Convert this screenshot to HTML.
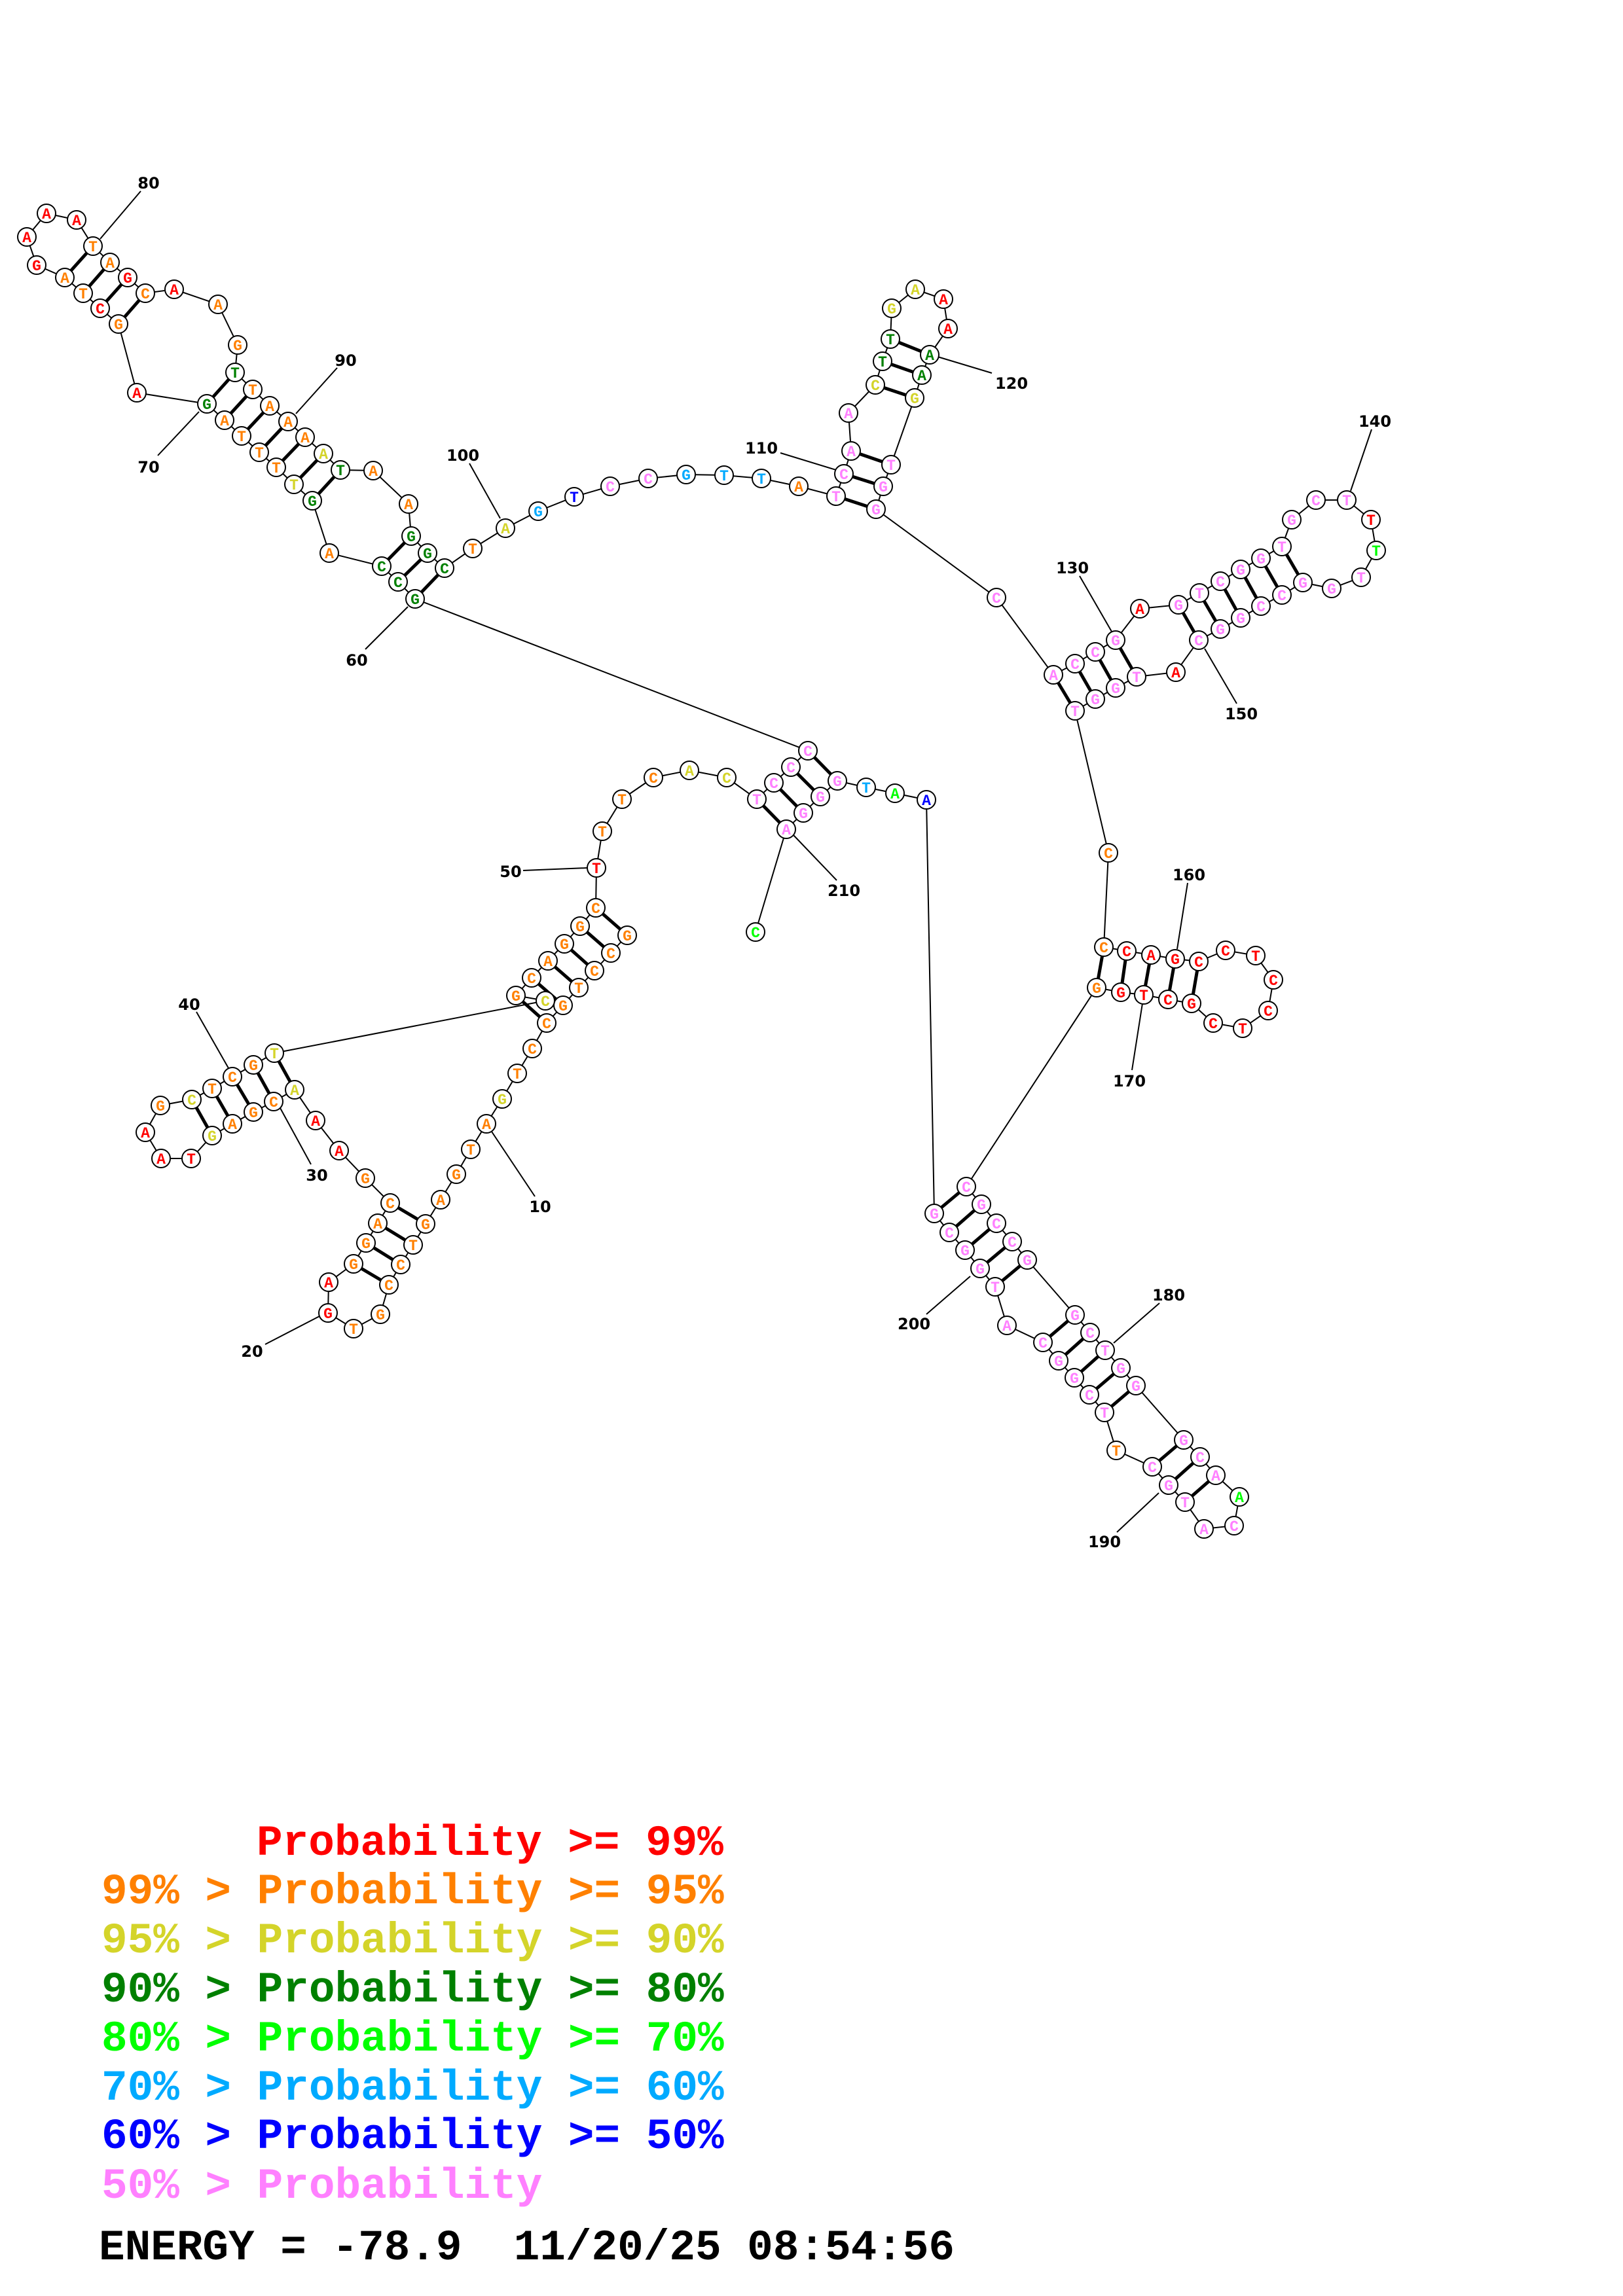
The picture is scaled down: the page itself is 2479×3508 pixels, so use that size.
<!DOCTYPE html>
<html><head><meta charset="utf-8"><style>
html,body{margin:0;padding:0;background:#fff}
svg{display:block}
.n{font-family:"Liberation Mono",monospace;font-weight:bold;font-size:23px;text-anchor:middle}
.l{font-family:"DejaVu Sans","Liberation Sans",sans-serif;font-weight:bold;font-size:24px;text-anchor:middle;fill:#000}
.g text{font-family:"Liberation Mono",monospace;font-weight:bold;font-size:66px;white-space:pre}
.r{fill:#ff0000}.o{fill:#ff8000}.y{fill:#d4d42a}.d{fill:#008000}.e{fill:#00ff00}.b{fill:#00aaff}.u{fill:#0000ff}.p{fill:#ff80ff}
</style></head><body>
<svg width="2479" height="3508" viewBox="0 0 2479 3508" xmlns="http://www.w3.org/2000/svg">
<rect width="2479" height="3508" fill="#fff"/>
<g stroke="#000" stroke-width="2" fill="none">
<polyline points="958,1429 933,1456 908,1483 884,1509 860,1536 835,1563 813,1602 790,1640 767,1679 743,1717 719,1756 697,1794 673,1833 650,1870 631,1902 612,1932 594,1963 581,2008 540,2030 501,2006 502,1959 540,1931 559,1899 577,1869 596,1838 558,1800 518,1758 482,1712 450,1665 418,1683 387,1699 355,1717 324,1735 292,1770 246,1770 222,1730 245,1689 293,1680 324,1663 355,1645 387,1627 419,1609 833,1529 788,1521 812,1494 837,1468 862,1442 886,1415 910,1387 911,1326 920,1270 950,1221 998,1188 1053,1177 1110,1188 1156,1221 1182,1196 1208,1172 1234,1147 634,915 608,889 583,865 503,845 477,765 449,740 422,714 396,691 369,666 343,642 316,617 209,600 181,495 153,471 127,448 99,424 56,405 41,362 71,326 117,336 142,376 168,401 195,424 222,448 266,442 333,465 363,527 359,569 386,595 412,620 440,644 466,668 494,693 520,718 570,719 624,770 628,819 653,845 679,868 722,838 772,807 822,781 877,759 932,743 990,731 1048,725 1106,726 1163,731 1220,743 1277,758 1289,724 1300,689 1296,631 1337,588 1348,552 1360,518 1362,471 1398,442 1441,457 1448,502 1420,542 1408,573 1397,608 1361,710 1349,743 1338,778 1522,913 1609,1031 1642,1014 1673,996 1704,978 1741,930 1800,924 1832,906 1864,888 1895,870 1926,853 1958,835 1973,794 2010,764 2057,764 2094,794 2102,841 2079,882 2034,899 1990,890 1958,909 1926,926 1895,944 1864,961 1831,978 1796,1027 1736,1034 1704,1051 1673,1068 1642,1086 1693,1303 1686,1447 1721,1453 1758,1459 1795,1465 1831,1469 1872,1452 1918,1460 1945,1497 1937,1544 1898,1571 1853,1563 1820,1533 1784,1527 1747,1520 1712,1516 1675,1509 1476,1813 1499,1840 1522,1869 1546,1897 1569,1925 1642,2009 1665,2036 1688,2063 1712,2090 1735,2117 1808,2200 1833,2226 1857,2254 1893,2287 1885,2331 1839,2336 1810,2295 1785,2269 1760,2241 1705,2216 1687,2158 1664,2131 1641,2105 1617,2079 1593,2051 1538,2025 1520,1966 1497,1938 1474,1910 1450,1883 1427,1854 1415,1222 1367,1212 1323,1203 1279,1193 1253,1217 1227,1242 1201,1267 1154,1424"/>
<!-- label lines -->
<line x1="215" y1="292" x2="153" y2="365"/><line x1="515" y1="562" x2="452" y2="632"/>
<line x1="241" y1="696" x2="304" y2="629"/><line x1="717" y1="708" x2="764" y2="792"/>
<line x1="558" y1="992" x2="623" y2="927"/><line x1="1192" y1="692" x2="1277" y2="718"/>
<line x1="1432" y1="545" x2="1515" y2="570"/><line x1="1649" y1="880" x2="1698" y2="965"/>
<line x1="2095" y1="656" x2="2063" y2="750"/><line x1="1889" y1="1075" x2="1840" y2="991"/>
<line x1="1814" y1="1349" x2="1798" y2="1450"/><line x1="1729" y1="1635" x2="1745" y2="1533"/>
<line x1="1771" y1="1991" x2="1701" y2="2052"/><line x1="1706" y1="2341" x2="1770" y2="2281"/>
<line x1="1415" y1="2008" x2="1482" y2="1950"/><line x1="1278" y1="1345" x2="1212" y2="1276"/>
<line x1="799" y1="1330" x2="897" y2="1326"/><line x1="300" y1="1546" x2="349" y2="1632"/>
<line x1="475" y1="1779" x2="428" y2="1693"/><line x1="817" y1="1828" x2="751" y2="1729"/>
<line x1="405" y1="2054" x2="488" y2="2011"/>
</g>
<g stroke="#000" stroke-width="5">
<line x1="958" y1="1429" x2="910" y2="1387"/><line x1="933" y1="1456" x2="886" y2="1415"/><line x1="908" y1="1483" x2="862" y2="1442"/><line x1="884" y1="1509" x2="837" y2="1468"/><line x1="860" y1="1536" x2="812" y2="1494"/><line x1="835" y1="1563" x2="788" y2="1521"/>
<line x1="650" y1="1870" x2="596" y2="1838"/><line x1="631" y1="1902" x2="577" y2="1869"/><line x1="612" y1="1932" x2="559" y2="1899"/><line x1="594" y1="1963" x2="540" y2="1931"/>
<line x1="450" y1="1665" x2="419" y2="1609"/><line x1="418" y1="1683" x2="387" y2="1627"/><line x1="387" y1="1699" x2="355" y2="1645"/><line x1="355" y1="1717" x2="324" y2="1663"/><line x1="324" y1="1735" x2="293" y2="1680"/>
<line x1="1156" y1="1221" x2="1201" y2="1267"/><line x1="1182" y1="1196" x2="1227" y2="1242"/><line x1="1208" y1="1172" x2="1253" y2="1217"/><line x1="1234" y1="1147" x2="1279" y2="1193"/>
<line x1="634" y1="915" x2="679" y2="868"/><line x1="608" y1="889" x2="653" y2="845"/><line x1="583" y1="865" x2="628" y2="819"/>
<line x1="477" y1="765" x2="520" y2="718"/><line x1="449" y1="740" x2="494" y2="693"/><line x1="422" y1="714" x2="466" y2="668"/><line x1="396" y1="691" x2="440" y2="644"/><line x1="369" y1="666" x2="412" y2="620"/><line x1="343" y1="642" x2="386" y2="595"/><line x1="316" y1="617" x2="359" y2="569"/>
<line x1="181" y1="495" x2="222" y2="448"/><line x1="153" y1="471" x2="195" y2="424"/><line x1="127" y1="448" x2="168" y2="401"/><line x1="99" y1="424" x2="142" y2="376"/>
<line x1="1277" y1="758" x2="1338" y2="778"/><line x1="1289" y1="724" x2="1349" y2="743"/><line x1="1300" y1="689" x2="1361" y2="710"/><line x1="1337" y1="588" x2="1397" y2="608"/><line x1="1348" y1="552" x2="1408" y2="573"/><line x1="1360" y1="518" x2="1420" y2="542"/>
<line x1="1609" y1="1031" x2="1642" y2="1086"/><line x1="1642" y1="1014" x2="1673" y2="1068"/><line x1="1673" y1="996" x2="1704" y2="1051"/><line x1="1704" y1="978" x2="1736" y2="1034"/>
<line x1="1800" y1="924" x2="1831" y2="978"/><line x1="1832" y1="906" x2="1864" y2="961"/><line x1="1864" y1="888" x2="1895" y2="944"/><line x1="1895" y1="870" x2="1926" y2="926"/><line x1="1926" y1="853" x2="1958" y2="909"/><line x1="1958" y1="835" x2="1990" y2="890"/>
<line x1="1686" y1="1447" x2="1675" y2="1509"/><line x1="1721" y1="1453" x2="1712" y2="1516"/><line x1="1758" y1="1459" x2="1747" y2="1520"/><line x1="1795" y1="1465" x2="1784" y2="1527"/><line x1="1831" y1="1469" x2="1820" y2="1533"/>
<line x1="1476" y1="1813" x2="1427" y2="1854"/><line x1="1499" y1="1840" x2="1450" y2="1883"/><line x1="1522" y1="1869" x2="1474" y2="1910"/><line x1="1546" y1="1897" x2="1497" y2="1938"/><line x1="1569" y1="1925" x2="1520" y2="1966"/>
<line x1="1642" y1="2009" x2="1593" y2="2051"/><line x1="1665" y1="2036" x2="1617" y2="2079"/><line x1="1688" y1="2063" x2="1641" y2="2105"/><line x1="1712" y1="2090" x2="1664" y2="2131"/><line x1="1735" y1="2117" x2="1687" y2="2158"/>
<line x1="1808" y1="2200" x2="1760" y2="2241"/><line x1="1833" y1="2226" x2="1785" y2="2269"/><line x1="1857" y1="2254" x2="1810" y2="2295"/>
</g>
<g fill="#fff" stroke="#000" stroke-width="2">
<circle cx="958" cy="1429" r="14"/><circle cx="933" cy="1456" r="14"/><circle cx="908" cy="1483" r="14"/><circle cx="884" cy="1509" r="14"/><circle cx="860" cy="1536" r="14"/><circle cx="835" cy="1563" r="14"/><circle cx="813" cy="1602" r="14"/><circle cx="790" cy="1640" r="14"/><circle cx="767" cy="1679" r="14"/><circle cx="743" cy="1717" r="14"/><circle cx="719" cy="1756" r="14"/><circle cx="697" cy="1794" r="14"/><circle cx="673" cy="1833" r="14"/><circle cx="650" cy="1870" r="14"/><circle cx="631" cy="1902" r="14"/><circle cx="612" cy="1932" r="14"/><circle cx="594" cy="1963" r="14"/><circle cx="581" cy="2008" r="14"/><circle cx="540" cy="2030" r="14"/><circle cx="501" cy="2006" r="14"/><circle cx="502" cy="1959" r="14"/><circle cx="540" cy="1931" r="14"/><circle cx="559" cy="1899" r="14"/><circle cx="577" cy="1869" r="14"/><circle cx="596" cy="1838" r="14"/><circle cx="558" cy="1800" r="14"/><circle cx="518" cy="1758" r="14"/><circle cx="482" cy="1712" r="14"/><circle cx="450" cy="1665" r="14"/><circle cx="418" cy="1683" r="14"/><circle cx="387" cy="1699" r="14"/><circle cx="355" cy="1717" r="14"/><circle cx="324" cy="1735" r="14"/><circle cx="292" cy="1770" r="14"/><circle cx="246" cy="1770" r="14"/><circle cx="222" cy="1730" r="14"/><circle cx="245" cy="1689" r="14"/><circle cx="293" cy="1680" r="14"/><circle cx="324" cy="1663" r="14"/><circle cx="355" cy="1645" r="14"/><circle cx="387" cy="1627" r="14"/><circle cx="419" cy="1609" r="14"/><circle cx="833" cy="1529" r="14"/><circle cx="788" cy="1521" r="14"/><circle cx="812" cy="1494" r="14"/><circle cx="837" cy="1468" r="14"/><circle cx="862" cy="1442" r="14"/><circle cx="886" cy="1415" r="14"/><circle cx="910" cy="1387" r="14"/><circle cx="911" cy="1326" r="14"/><circle cx="920" cy="1270" r="14"/><circle cx="950" cy="1221" r="14"/><circle cx="998" cy="1188" r="14"/><circle cx="1053" cy="1177" r="14"/><circle cx="1110" cy="1188" r="14"/><circle cx="1156" cy="1221" r="14"/><circle cx="1182" cy="1196" r="14"/><circle cx="1208" cy="1172" r="14"/><circle cx="1234" cy="1147" r="14"/><circle cx="634" cy="915" r="14"/><circle cx="608" cy="889" r="14"/><circle cx="583" cy="865" r="14"/><circle cx="503" cy="845" r="14"/><circle cx="477" cy="765" r="14"/><circle cx="449" cy="740" r="14"/><circle cx="422" cy="714" r="14"/><circle cx="396" cy="691" r="14"/><circle cx="369" cy="666" r="14"/><circle cx="343" cy="642" r="14"/><circle cx="316" cy="617" r="14"/><circle cx="209" cy="600" r="14"/><circle cx="181" cy="495" r="14"/><circle cx="153" cy="471" r="14"/><circle cx="127" cy="448" r="14"/><circle cx="99" cy="424" r="14"/><circle cx="56" cy="405" r="14"/><circle cx="41" cy="362" r="14"/><circle cx="71" cy="326" r="14"/><circle cx="117" cy="336" r="14"/><circle cx="142" cy="376" r="14"/><circle cx="168" cy="401" r="14"/><circle cx="195" cy="424" r="14"/><circle cx="222" cy="448" r="14"/><circle cx="266" cy="442" r="14"/><circle cx="333" cy="465" r="14"/><circle cx="363" cy="527" r="14"/><circle cx="359" cy="569" r="14"/><circle cx="386" cy="595" r="14"/><circle cx="412" cy="620" r="14"/><circle cx="440" cy="644" r="14"/><circle cx="466" cy="668" r="14"/><circle cx="494" cy="693" r="14"/><circle cx="520" cy="718" r="14"/><circle cx="570" cy="719" r="14"/><circle cx="624" cy="770" r="14"/><circle cx="628" cy="819" r="14"/><circle cx="653" cy="845" r="14"/><circle cx="679" cy="868" r="14"/><circle cx="722" cy="838" r="14"/><circle cx="772" cy="807" r="14"/><circle cx="822" cy="781" r="14"/><circle cx="877" cy="759" r="14"/><circle cx="932" cy="743" r="14"/><circle cx="990" cy="731" r="14"/><circle cx="1048" cy="725" r="14"/><circle cx="1106" cy="726" r="14"/><circle cx="1163" cy="731" r="14"/><circle cx="1220" cy="743" r="14"/><circle cx="1277" cy="758" r="14"/><circle cx="1289" cy="724" r="14"/><circle cx="1300" cy="689" r="14"/><circle cx="1296" cy="631" r="14"/><circle cx="1337" cy="588" r="14"/><circle cx="1348" cy="552" r="14"/><circle cx="1360" cy="518" r="14"/><circle cx="1362" cy="471" r="14"/><circle cx="1398" cy="442" r="14"/><circle cx="1441" cy="457" r="14"/><circle cx="1448" cy="502" r="14"/><circle cx="1420" cy="542" r="14"/><circle cx="1408" cy="573" r="14"/><circle cx="1397" cy="608" r="14"/><circle cx="1361" cy="710" r="14"/><circle cx="1349" cy="743" r="14"/><circle cx="1338" cy="778" r="14"/><circle cx="1522" cy="913" r="14"/><circle cx="1609" cy="1031" r="14"/><circle cx="1642" cy="1014" r="14"/><circle cx="1673" cy="996" r="14"/><circle cx="1704" cy="978" r="14"/><circle cx="1741" cy="930" r="14"/><circle cx="1800" cy="924" r="14"/><circle cx="1832" cy="906" r="14"/><circle cx="1864" cy="888" r="14"/><circle cx="1895" cy="870" r="14"/><circle cx="1926" cy="853" r="14"/><circle cx="1958" cy="835" r="14"/><circle cx="1973" cy="794" r="14"/><circle cx="2010" cy="764" r="14"/><circle cx="2057" cy="764" r="14"/><circle cx="2094" cy="794" r="14"/><circle cx="2102" cy="841" r="14"/><circle cx="2079" cy="882" r="14"/><circle cx="2034" cy="899" r="14"/><circle cx="1990" cy="890" r="14"/><circle cx="1958" cy="909" r="14"/><circle cx="1926" cy="926" r="14"/><circle cx="1895" cy="944" r="14"/><circle cx="1864" cy="961" r="14"/><circle cx="1831" cy="978" r="14"/><circle cx="1796" cy="1027" r="14"/><circle cx="1736" cy="1034" r="14"/><circle cx="1704" cy="1051" r="14"/><circle cx="1673" cy="1068" r="14"/><circle cx="1642" cy="1086" r="14"/><circle cx="1693" cy="1303" r="14"/><circle cx="1686" cy="1447" r="14"/><circle cx="1721" cy="1453" r="14"/><circle cx="1758" cy="1459" r="14"/><circle cx="1795" cy="1465" r="14"/><circle cx="1831" cy="1469" r="14"/><circle cx="1872" cy="1452" r="14"/><circle cx="1918" cy="1460" r="14"/><circle cx="1945" cy="1497" r="14"/><circle cx="1937" cy="1544" r="14"/><circle cx="1898" cy="1571" r="14"/><circle cx="1853" cy="1563" r="14"/><circle cx="1820" cy="1533" r="14"/><circle cx="1784" cy="1527" r="14"/><circle cx="1747" cy="1520" r="14"/><circle cx="1712" cy="1516" r="14"/><circle cx="1675" cy="1509" r="14"/><circle cx="1476" cy="1813" r="14"/><circle cx="1499" cy="1840" r="14"/><circle cx="1522" cy="1869" r="14"/><circle cx="1546" cy="1897" r="14"/><circle cx="1569" cy="1925" r="14"/><circle cx="1642" cy="2009" r="14"/><circle cx="1665" cy="2036" r="14"/><circle cx="1688" cy="2063" r="14"/><circle cx="1712" cy="2090" r="14"/><circle cx="1735" cy="2117" r="14"/><circle cx="1808" cy="2200" r="14"/><circle cx="1833" cy="2226" r="14"/><circle cx="1857" cy="2254" r="14"/><circle cx="1893" cy="2287" r="14"/><circle cx="1885" cy="2331" r="14"/><circle cx="1839" cy="2336" r="14"/><circle cx="1810" cy="2295" r="14"/><circle cx="1785" cy="2269" r="14"/><circle cx="1760" cy="2241" r="14"/><circle cx="1705" cy="2216" r="14"/><circle cx="1687" cy="2158" r="14"/><circle cx="1664" cy="2131" r="14"/><circle cx="1641" cy="2105" r="14"/><circle cx="1617" cy="2079" r="14"/><circle cx="1593" cy="2051" r="14"/><circle cx="1538" cy="2025" r="14"/><circle cx="1520" cy="1966" r="14"/><circle cx="1497" cy="1938" r="14"/><circle cx="1474" cy="1910" r="14"/><circle cx="1450" cy="1883" r="14"/><circle cx="1427" cy="1854" r="14"/><circle cx="1415" cy="1222" r="14"/><circle cx="1367" cy="1212" r="14"/><circle cx="1323" cy="1203" r="14"/><circle cx="1279" cy="1193" r="14"/><circle cx="1253" cy="1217" r="14"/><circle cx="1227" cy="1242" r="14"/><circle cx="1201" cy="1267" r="14"/><circle cx="1154" cy="1424" r="14"/>
</g>
<g class="n" transform="translate(0,8)">
<text x="958" y="1429" class="o">G</text><text x="933" y="1456" class="o">C</text><text x="908" y="1483" class="o">C</text><text x="884" y="1509" class="o">T</text><text x="860" y="1536" class="o">G</text><text x="835" y="1563" class="o">C</text><text x="813" y="1602" class="o">C</text><text x="790" y="1640" class="o">T</text><text x="767" y="1679" class="y">G</text><text x="743" y="1717" class="o">A</text><text x="719" y="1756" class="o">T</text><text x="697" y="1794" class="o">G</text><text x="673" y="1833" class="o">A</text><text x="650" y="1870" class="o">G</text><text x="631" y="1902" class="o">T</text><text x="612" y="1932" class="o">C</text><text x="594" y="1963" class="o">C</text><text x="581" y="2008" class="o">G</text><text x="540" y="2030" class="o">T</text><text x="501" y="2006" class="r">G</text><text x="502" y="1959" class="r">A</text><text x="540" y="1931" class="o">G</text><text x="559" y="1899" class="o">G</text><text x="577" y="1869" class="o">A</text><text x="596" y="1838" class="o">C</text><text x="558" y="1800" class="o">G</text><text x="518" y="1758" class="r">A</text><text x="482" y="1712" class="r">A</text><text x="450" y="1665" class="y">A</text><text x="418" y="1683" class="o">C</text><text x="387" y="1699" class="o">G</text><text x="355" y="1717" class="o">A</text><text x="324" y="1735" class="y">G</text><text x="292" y="1770" class="r">T</text><text x="246" y="1770" class="r">A</text><text x="222" y="1730" class="r">A</text><text x="245" y="1689" class="o">G</text><text x="293" y="1680" class="y">C</text><text x="324" y="1663" class="o">T</text><text x="355" y="1645" class="o">C</text><text x="387" y="1627" class="o">G</text><text x="419" y="1609" class="y">T</text><text x="833" y="1529" class="y">C</text><text x="788" y="1521" class="o">G</text><text x="812" y="1494" class="o">C</text><text x="837" y="1468" class="o">A</text><text x="862" y="1442" class="o">G</text><text x="886" y="1415" class="o">G</text><text x="910" y="1387" class="o">C</text><text x="911" y="1326" class="r">T</text><text x="920" y="1270" class="o">T</text><text x="950" y="1221" class="o">T</text><text x="998" y="1188" class="o">C</text><text x="1053" y="1177" class="y">A</text><text x="1110" y="1188" class="y">C</text><text x="1156" y="1221" class="p">T</text><text x="1182" y="1196" class="p">C</text><text x="1208" y="1172" class="p">C</text><text x="1234" y="1147" class="p">C</text>
<text x="634" y="915" class="d">G</text><text x="608" y="889" class="d">C</text><text x="583" y="865" class="d">C</text><text x="503" y="845" class="o">A</text><text x="477" y="765" class="d">G</text><text x="449" y="740" class="y">T</text><text x="422" y="714" class="o">T</text><text x="396" y="691" class="o">T</text><text x="369" y="666" class="o">T</text><text x="343" y="642" class="o">A</text><text x="316" y="617" class="d">G</text><text x="209" y="600" class="r">A</text><text x="181" y="495" class="o">G</text><text x="153" y="471" class="r">C</text><text x="127" y="448" class="o">T</text><text x="99" y="424" class="o">A</text><text x="56" y="405" class="r">G</text><text x="41" y="362" class="r">A</text><text x="71" y="326" class="r">A</text><text x="117" y="336" class="r">A</text><text x="142" y="376" class="o">T</text><text x="168" y="401" class="o">A</text><text x="195" y="424" class="r">G</text><text x="222" y="448" class="o">C</text><text x="266" y="442" class="r">A</text><text x="333" y="465" class="o">A</text><text x="363" y="527" class="o">G</text><text x="359" y="569" class="d">T</text><text x="386" y="595" class="o">T</text><text x="412" y="620" class="o">A</text><text x="440" y="644" class="o">A</text><text x="466" y="668" class="o">A</text><text x="494" y="693" class="y">A</text><text x="520" y="718" class="d">T</text><text x="570" y="719" class="o">A</text><text x="624" y="770" class="o">A</text><text x="628" y="819" class="d">G</text><text x="653" y="845" class="d">G</text><text x="679" y="868" class="d">C</text><text x="722" y="838" class="o">T</text><text x="772" y="807" class="y">A</text>
<text x="822" y="781" class="b">G</text><text x="877" y="759" class="u">T</text><text x="932" y="743" class="p">C</text><text x="990" y="731" class="p">C</text><text x="1048" y="725" class="b">G</text><text x="1106" y="726" class="b">T</text><text x="1163" y="731" class="b">T</text><text x="1220" y="743" class="o">A</text><text x="1277" y="758" class="p">T</text><text x="1289" y="724" class="p">C</text><text x="1300" y="689" class="p">A</text><text x="1296" y="631" class="p">A</text><text x="1337" y="588" class="y">C</text><text x="1348" y="552" class="d">T</text><text x="1360" y="518" class="d">T</text><text x="1362" y="471" class="y">G</text><text x="1398" y="442" class="y">A</text><text x="1441" y="457" class="r">A</text><text x="1448" y="502" class="r">A</text><text x="1420" y="542" class="d">A</text><text x="1408" y="573" class="d">A</text><text x="1397" y="608" class="y">G</text><text x="1361" y="710" class="p">T</text><text x="1349" y="743" class="p">G</text><text x="1338" y="778" class="p">G</text>
<text x="1522" y="913" class="p">C</text><text x="1609" y="1031" class="p">A</text><text x="1642" y="1014" class="p">C</text><text x="1673" y="996" class="p">C</text><text x="1704" y="978" class="p">G</text><text x="1741" y="930" class="r">A</text><text x="1800" y="924" class="p">G</text><text x="1832" y="906" class="p">T</text><text x="1864" y="888" class="p">C</text><text x="1895" y="870" class="p">G</text><text x="1926" y="853" class="p">G</text><text x="1958" y="835" class="p">T</text><text x="1973" y="794" class="p">G</text><text x="2010" y="764" class="p">C</text><text x="2057" y="764" class="p">T</text><text x="2094" y="794" class="r">T</text><text x="2102" y="841" class="e">T</text><text x="2079" y="882" class="p">T</text><text x="2034" y="899" class="p">G</text><text x="1990" y="890" class="p">G</text><text x="1958" y="909" class="p">C</text><text x="1926" y="926" class="p">C</text><text x="1895" y="944" class="p">G</text><text x="1864" y="961" class="p">G</text><text x="1831" y="978" class="p">C</text><text x="1796" y="1027" class="r">A</text><text x="1736" y="1034" class="p">T</text><text x="1704" y="1051" class="p">G</text><text x="1673" y="1068" class="p">G</text><text x="1642" y="1086" class="p">T</text>
<text x="1693" y="1303" class="o">C</text><text x="1686" y="1447" class="o">C</text><text x="1721" y="1453" class="r">C</text><text x="1758" y="1459" class="r">A</text><text x="1795" y="1465" class="r">G</text><text x="1831" y="1469" class="r">C</text><text x="1872" y="1452" class="r">C</text><text x="1918" y="1460" class="r">T</text><text x="1945" y="1497" class="r">C</text><text x="1937" y="1544" class="r">C</text><text x="1898" y="1571" class="r">T</text><text x="1853" y="1563" class="r">C</text><text x="1820" y="1533" class="r">G</text><text x="1784" y="1527" class="r">C</text><text x="1747" y="1520" class="r">T</text><text x="1712" y="1516" class="r">G</text><text x="1675" y="1509" class="o">G</text>
<text x="1476" y="1813" class="p">C</text><text x="1499" y="1840" class="p">G</text><text x="1522" y="1869" class="p">C</text><text x="1546" y="1897" class="p">C</text><text x="1569" y="1925" class="p">G</text><text x="1642" y="2009" class="p">G</text><text x="1665" y="2036" class="p">C</text><text x="1688" y="2063" class="p">T</text><text x="1712" y="2090" class="p">G</text><text x="1735" y="2117" class="p">G</text><text x="1808" y="2200" class="p">G</text><text x="1833" y="2226" class="p">C</text><text x="1857" y="2254" class="p">A</text><text x="1893" y="2287" class="e">A</text><text x="1885" y="2331" class="p">C</text><text x="1839" y="2336" class="p">A</text><text x="1810" y="2295" class="p">T</text><text x="1785" y="2269" class="p">G</text><text x="1760" y="2241" class="p">C</text><text x="1705" y="2216" class="o">T</text><text x="1687" y="2158" class="p">T</text><text x="1664" y="2131" class="p">C</text><text x="1641" y="2105" class="p">G</text><text x="1617" y="2079" class="p">G</text><text x="1593" y="2051" class="p">C</text><text x="1538" y="2025" class="p">A</text><text x="1520" y="1966" class="p">T</text><text x="1497" y="1938" class="p">G</text><text x="1474" y="1910" class="p">G</text><text x="1450" y="1883" class="p">C</text><text x="1427" y="1854" class="p">G</text>
<text x="1415" y="1222" class="u">A</text><text x="1367" y="1212" class="e">A</text><text x="1323" y="1203" class="b">T</text><text x="1279" y="1193" class="p">G</text><text x="1253" y="1217" class="p">G</text><text x="1227" y="1242" class="p">G</text><text x="1201" y="1267" class="p">A</text><text x="1154" y="1424" class="e">C</text>
</g>
<g class="l" transform="translate(0,9)">
<text x="227" y="279">80</text><text x="528" y="550">90</text><text x="227" y="713">70</text><text x="707" y="695">100</text><text x="545" y="1008">60</text><text x="1163" y="684">110</text><text x="1545" y="585">120</text><text x="1638" y="867">130</text><text x="2100" y="643">140</text><text x="1896" y="1090">150</text><text x="1816" y="1336">160</text><text x="1725" y="1651">170</text><text x="1785" y="1978">180</text><text x="1687" y="2355">190</text><text x="1396" y="2022">200</text><text x="1289" y="1360">210</text><text x="780" y="1331">50</text><text x="289" y="1534">40</text><text x="484" y="1795">30</text><text x="825" y="1843">10</text><text x="385" y="2064">20</text>
</g>
<g class="g">
<text x="392" y="2834" class="r">Probability &gt;= 99%</text>
<text x="155" y="2908" class="o">99% &gt; Probability &gt;= 95%</text>
<text x="155" y="2983" class="y">95% &gt; Probability &gt;= 90%</text>
<text x="155" y="3058" class="d">90% &gt; Probability &gt;= 80%</text>
<text x="155" y="3133" class="e">80% &gt; Probability &gt;= 70%</text>
<text x="155" y="3208" class="b">70% &gt; Probability &gt;= 60%</text>
<text x="155" y="3282" class="u">60% &gt; Probability &gt;= 50%</text>
<text x="155" y="3358" class="p">50% &gt; Probability</text>
<text x="151" y="3452" fill="#000">ENERGY = -78.9  11/20/25 08:54:56</text>
</g>
</svg>
</body></html>
